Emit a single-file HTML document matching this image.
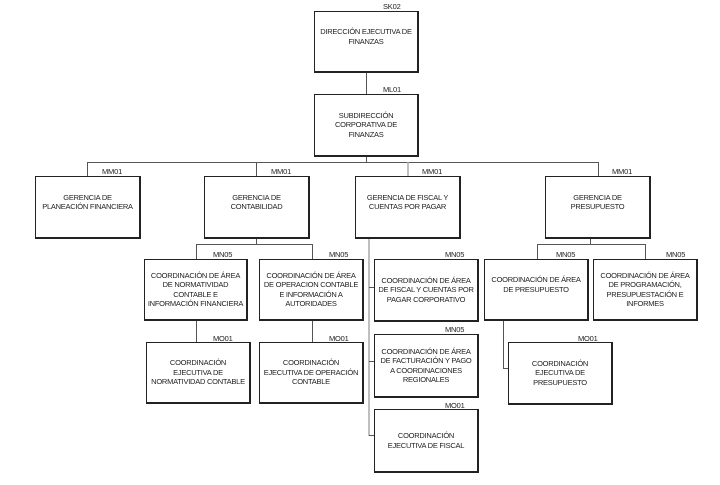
<!DOCTYPE html>
<html><head><meta charset="utf-8"><style>
body{margin:0;width:720px;height:485px;background:#fff;position:relative;overflow:hidden;font-family:"Liberation Sans",sans-serif;}
.b{position:absolute;box-sizing:border-box;border:1px solid #222;border-right-width:2px;border-bottom-width:2px;display:flex;align-items:center;justify-content:center;text-align:center;font-size:7.5px;line-height:9.5px;color:#222;white-space:nowrap;letter-spacing:-0.25px;}
.l{position:absolute;font-size:7.5px;color:#222;letter-spacing:-0.2px;}
svg{position:absolute;left:0;top:0;}
</style></head><body>
<svg width="720" height="485"><g stroke="#555" stroke-width="1" fill="none">
<line x1="366.5" y1="72" x2="366.5" y2="94"/>
<line x1="366.5" y1="156" x2="366.5" y2="162.5"/>
<line x1="87.5" y1="162.5" x2="598.5" y2="162.5"/>
<line x1="87.5" y1="162" x2="87.5" y2="176"/>
<line x1="256.5" y1="162" x2="256.5" y2="176"/>
<line x1="598.5" y1="162" x2="598.5" y2="176"/>
<line x1="256.5" y1="238" x2="256.5" y2="244.5"/>
<line x1="196.5" y1="244.5" x2="312.5" y2="244.5"/>
<line x1="196.5" y1="244" x2="196.5" y2="259"/>
<line x1="312.5" y1="244" x2="312.5" y2="259"/>
<line x1="196.5" y1="320" x2="196.5" y2="342"/>
<line x1="312.5" y1="320" x2="312.5" y2="342"/>
<line x1="590.5" y1="238" x2="590.5" y2="244.5"/>
<line x1="537.5" y1="244.5" x2="645.5" y2="244.5"/>
<line x1="537.5" y1="244" x2="537.5" y2="259"/>
<line x1="645.5" y1="244" x2="645.5" y2="259"/>
<line x1="503.5" y1="320" x2="503.5" y2="368.5"/>
<line x1="503" y1="368.5" x2="508" y2="368.5"/>
</g><g stroke="#aaa" stroke-width="1.5" fill="none">
<line x1="408" y1="162" x2="408" y2="176"/>
<line x1="369" y1="238" x2="369" y2="436"/>
</g><g stroke="#555" stroke-width="1">
<line x1="369" y1="287.5" x2="374" y2="287.5"/>
<line x1="369" y1="361.5" x2="374" y2="361.5"/>
<line x1="369" y1="435.5" x2="374" y2="435.5"/>
</g></svg>

<div class="l" style="left:383px;top:2px">SK02</div>
<div class="b" style="left:314px;top:11px;width:105px;height:62px;padding-bottom:10px">DIRECCIÓN EJECUTIVA DE<br>FINANZAS</div>
<div class="l" style="left:383px;top:85px">ML01</div>
<div class="b" style="left:314px;top:94px;width:105px;height:63px">SUBDIRECCIÓN<br>CORPORATIVA DE<br>FINANZAS</div>

<div class="l" style="left:102px;top:167px">MM01</div>
<div class="b" style="left:35px;top:176px;width:106px;height:63px;padding-bottom:10px">GERENCIA DE<br>PLANEACIÓN FINANCIERA</div>
<div class="l" style="left:271px;top:167px">MM01</div>
<div class="b" style="left:204px;top:176px;width:106px;height:63px;padding-bottom:10px">GERENCIA DE<br>CONTABILIDAD</div>
<div class="l" style="left:422px;top:167px">MM01</div>
<div class="b" style="left:355px;top:176px;width:106px;height:63px;padding-bottom:10px">GERENCIA DE FISCAL Y<br>CUENTAS POR PAGAR</div>
<div class="l" style="left:612px;top:167px">MM01</div>
<div class="b" style="left:545px;top:176px;width:106px;height:63px;padding-bottom:10px">GERENCIA DE<br>PRESUPUESTO</div>

<div class="l" style="left:213px;top:250px">MN05</div>
<div class="b" style="left:144px;top:259px;width:104px;height:62px">COORDINACIÓN DE ÁREA<br>DE NORMATIVIDAD<br>CONTABLE E<br>INFORMACIÓN FINANCIERA</div>
<div class="l" style="left:329px;top:250px">MN05</div>
<div class="b" style="left:259px;top:259px;width:105px;height:62px">COORDINACIÓN DE ÁREA<br>DE OPERACION CONTABLE<br>E INFORMACIÓN A<br>AUTORIDADES</div>
<div class="l" style="left:445px;top:250px">MN05</div>
<div class="b" style="left:374px;top:259px;width:105px;height:63px">COORDINACIÓN DE ÁREA<br>DE FISCAL Y CUENTAS POR<br>PAGAR CORPORATIVO</div>
<div class="l" style="left:556px;top:250px">MN05</div>
<div class="b" style="left:484px;top:259px;width:105px;height:62px;padding-bottom:10px">COORDINACIÓN DE ÁREA<br>DE PRESUPUESTO</div>
<div class="l" style="left:666px;top:250px">MN05</div>
<div class="b" style="left:593px;top:259px;width:105px;height:62px">COORDINACIÓN DE ÁREA<br>DE PROGRAMACIÓN,<br>PRESUPUESTACIÓN E<br>INFORMES</div>

<div class="l" style="left:213px;top:334px">MO01</div>
<div class="b" style="left:146px;top:342px;width:105px;height:62px">COORDINACIÓN<br>EJECUTIVA DE<br>NORMATIVIDAD CONTABLE</div>
<div class="l" style="left:329px;top:334px">MO01</div>
<div class="b" style="left:259px;top:342px;width:105px;height:62px">COORDINACIÓN<br>EJECUTIVA DE OPERACIÓN<br>CONTABLE</div>
<div class="l" style="left:445px;top:325px">MN05</div>
<div class="b" style="left:374px;top:334px;width:105px;height:64px">COORDINACIÓN DE ÁREA<br>DE FACTURACIÓN Y PAGO<br>A COORDINACIONES<br>REGIONALES</div>
<div class="l" style="left:445px;top:401px">MO01</div>
<div class="b" style="left:374px;top:409px;width:105px;height:64px">COORDINACIÓN<br>EJECUTIVA DE FISCAL</div>
<div class="l" style="left:578px;top:334px">MO01</div>
<div class="b" style="left:508px;top:342px;width:105px;height:63px">COORDINACIÓN<br>EJECUTIVA DE<br>PRESUPUESTO</div>
</body></html>
